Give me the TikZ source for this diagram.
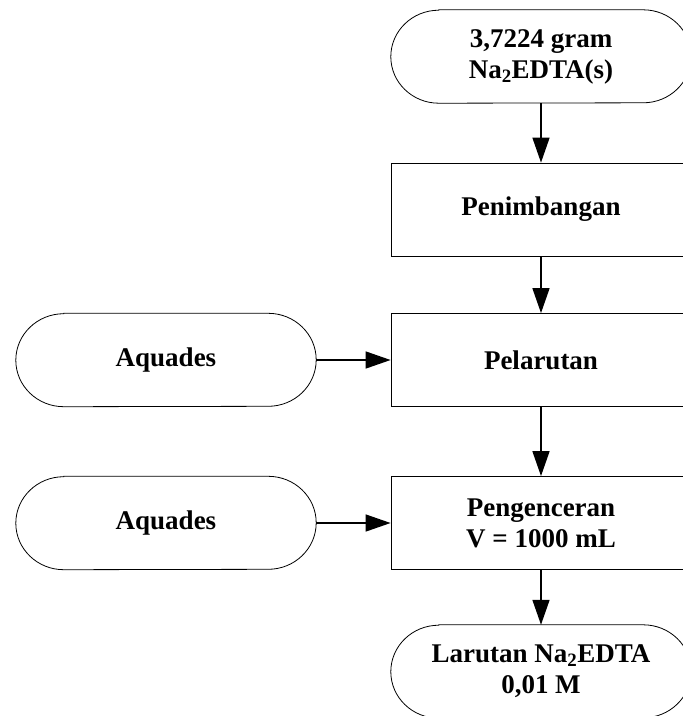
\documentclass[tikz,border=0pt]{standalone}
\usepackage{fontspec}
\setmainfont{Liberation Serif}
\usetikzlibrary{arrows.meta}
\begin{document}
\begin{tikzpicture}[x=1pt,y=-1pt,
  every node/.style={font=\bfseries\fontsize{27}{31}\selectfont, align=center, inner sep=0pt},
  procbox/.style={draw, line width=0.8pt, minimum width=300pt, minimum height=93pt},
  termbox/.style={minimum width=300pt, minimum height=93pt},
  flow/.style={line width=1.5pt, -{Triangle[length=25pt,width=17pt]}}]
  \useasboundingbox (0,0) rectangle (683,716);
  \clip (0,0) rectangle (683,716);

  % main column
  \node[termbox] (src) at (541,56.5) {3,7224 gram\\Na\textsubscript{2}EDTA(s)};
  \node[procbox] (weigh) at (541,209.5) {Penimbangan};
  \node[procbox] (dissolve) at (541,360) {Pelarutan};
  \node[procbox] (dilute) at (541,523) {Pengenceran\\V = 1000 mL};
  \node[termbox] (out) at (541,671.5) {Larutan Na\textsubscript{2}EDTA\\0,01 M};

  % side inputs
  \node[termbox] (aq1) at (166,360) {Aquades};
  \node[termbox] (aq2) at (166,523) {Aquades};

  % terminator outlines: straight sides with elliptical ends
  \foreach \n in {src,out,aq1,aq2}
    \draw[line width=0.8pt]
      ([xshift=48pt]\n.north west) -- ([xshift=-48pt]\n.north east)
      arc[start angle=90,end angle=-90,x radius=48pt,y radius=46.5pt]
      -- ([xshift=48pt]\n.south west)
      arc[start angle=270,end angle=90,x radius=48pt,y radius=46.5pt]
      -- cycle;

  % connectors
  \draw[flow] (src) -- (weigh);
  \draw[flow] (weigh) -- (dissolve);
  \draw[flow] (dissolve) -- (dilute);
  \draw[flow] (dilute) -- (out);
  \draw[flow] (aq1) -- (dissolve);
  \draw[flow] (aq2) -- (dilute);
\end{tikzpicture}
\end{document}
